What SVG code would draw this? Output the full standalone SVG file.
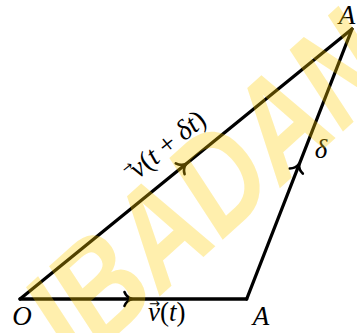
<svg xmlns="http://www.w3.org/2000/svg" xmlns:xlink="http://www.w3.org/1999/xlink" width="357" height="333" viewBox="0 0 357 333">
<style>
.edge{stroke:#000;stroke-width:3.3;fill:none;stroke-linecap:round;stroke-linejoin:round}
.head{stroke:#000;stroke-width:2.6;fill:none;stroke-linecap:round;stroke-linejoin:round}
.lbl{font-family:"Liberation Serif","DejaVu Serif",serif;font-style:italic;font-size:27px;fill:#000}
.up{font-style:normal}
.vec{font-family:"DejaVu Sans","Liberation Sans",sans-serif;font-style:normal;font-size:13px}
.wm{font-family:"Liberation Sans",Arial,sans-serif;font-weight:bold;font-style:italic;font-size:112px;fill:#FFCC00;fill-opacity:0.32}
</style>
<defs>
<path id="arr" class="head" d="M-7.5,-7 C-6,-3 -2.5,-0.8 0,0 C-2.5,0.8 -6,3 -7.5,7"/>
</defs>
<g id="connectors">
<line class="edge" x1="20" y1="299" x2="246.7" y2="299"/>
<line class="edge" x1="20" y1="299" x2="352" y2="29"/>
<line class="edge" x1="246.7" y1="299" x2="352" y2="29"/>
<use xlink:href="#arr" transform="translate(132,299)"/>
<use xlink:href="#arr" transform="translate(186,164) rotate(-39.1)"/>
<use xlink:href="#arr" transform="translate(299,164) rotate(-68.7)"/>
</g>
<g id="node-O"><text class="lbl" x="22" y="325" text-anchor="middle">O</text></g>
<g id="node-A"><text class="lbl" x="261" y="325" text-anchor="middle">A</text></g>
<g id="node-A2"><text class="lbl" x="347" y="24" text-anchor="middle">A</text></g>
<g id="label-vt">
<text class="lbl" x="148" y="321">v<tspan class="up">(</tspan>t<tspan class="up">)</tspan></text>
<text class="vec" x="149" y="308">→</text>
</g>
<g id="label-vtdt" transform="translate(173,151) rotate(-39.1)">
<text class="lbl" x="0" y="0" text-anchor="middle" style="font-size:28px">v<tspan class="up">(</tspan>t<tspan class="up"> + </tspan>δt<tspan class="up">)</tspan></text>
<text class="vec" x="-51" y="-12">→</text>
</g>
<g id="label-delta"><text class="lbl" x="321" y="158" text-anchor="middle">δ</text></g>
<g id="watermark"><text class="wm" transform="translate(78,370) rotate(-42) scale(1,1.25)">IBADAN</text></g>
</svg>
